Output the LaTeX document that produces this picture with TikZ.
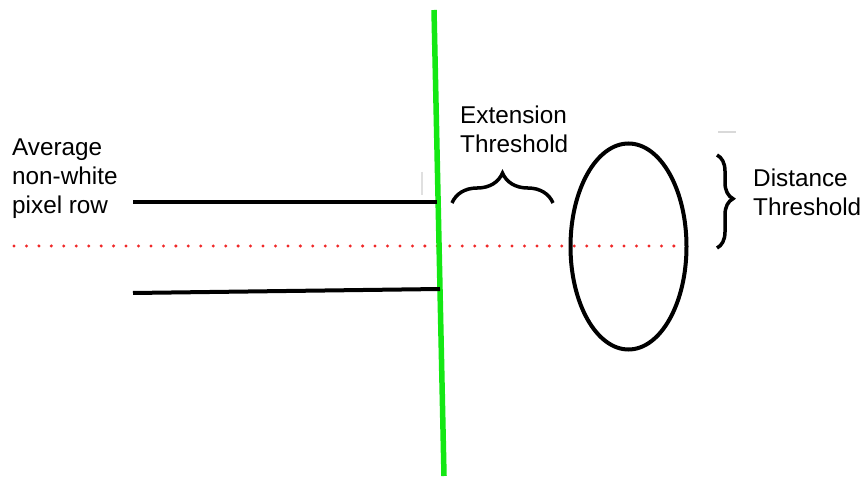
\documentclass[tikz,border=0pt]{standalone}
\usepackage{fontspec}
\setmainfont{Liberation Sans}
\usetikzlibrary{decorations.pathreplacing}
\definecolor{cutgreen}{RGB}{20,232,20}
\definecolor{midred}{RGB}{240,40,40}
\begin{document}
\begin{tikzpicture}[x=1pt,y=-1pt,
    label text/.style={inner sep=0pt, align=left, anchor=base west,
      font=\fontsize{24.3}{29}\selectfont},
    rowline/.style={line width=4pt, black},
    bracebar/.style={line width=3.5pt, black, decorate},
  ]
  \useasboundingbox[fill=white] (0,0) rectangle (865,478);

  % faint marks
  \draw[black!12, line width=1.2pt] (422,172) -- (422,195);
  \draw[black!15, line width=1.2pt] (718,132) -- (736,132);

  % average row (dotted centre line)
  \coordinate (midL) at (14,246);
  \coordinate (midR) at (678,246);
  \draw[midred, line width=3.3pt, line cap=round, dash pattern=on 0pt off 12.45pt] (midL) -- (midR);

  % green boundary line
  \coordinate (gTop) at (434,10);
  \coordinate (gBot) at (444,476);
  \draw[cutgreen, line width=5.5pt] (gTop) -- (gBot);

  % row lines
  \coordinate (r1L) at (133,202);
  \coordinate (r1R) at (437,202);
  \coordinate (r2L) at (133,293);
  \coordinate (r2R) at (440,289);
  \draw[rowline] (r1L) -- (r1R);
  \draw[rowline] (r2L) -- (r2R);

  % ellipse
  \coordinate (blob) at (628.5,246.5);
  \draw[line width=4pt] (blob) ellipse [x radius=58, y radius=103];

  % braces
  \coordinate (eL) at (452,203);
  \coordinate (eR) at (553,203);
  \draw[bracebar, decoration={brace, amplitude=30pt, aspect=0.5}] (eL) -- (eR);
  \coordinate (dT) at (717,155);
  \coordinate (dB) at (717,248);
  \draw[bracebar, decoration={brace, amplitude=16pt, aspect=0.47}] (dT) -- (dB);

  % labels (anchored at the baseline of the last line)
  \node[label text] (avg) at (12,214) {Average\\non-white\\pixel row};
  \node[label text] (ext) at (460,153) {Extension\\Threshold};
  \node[label text] (dist) at (753,216) {Distance\\Threshold};
\end{tikzpicture}
\end{document}
